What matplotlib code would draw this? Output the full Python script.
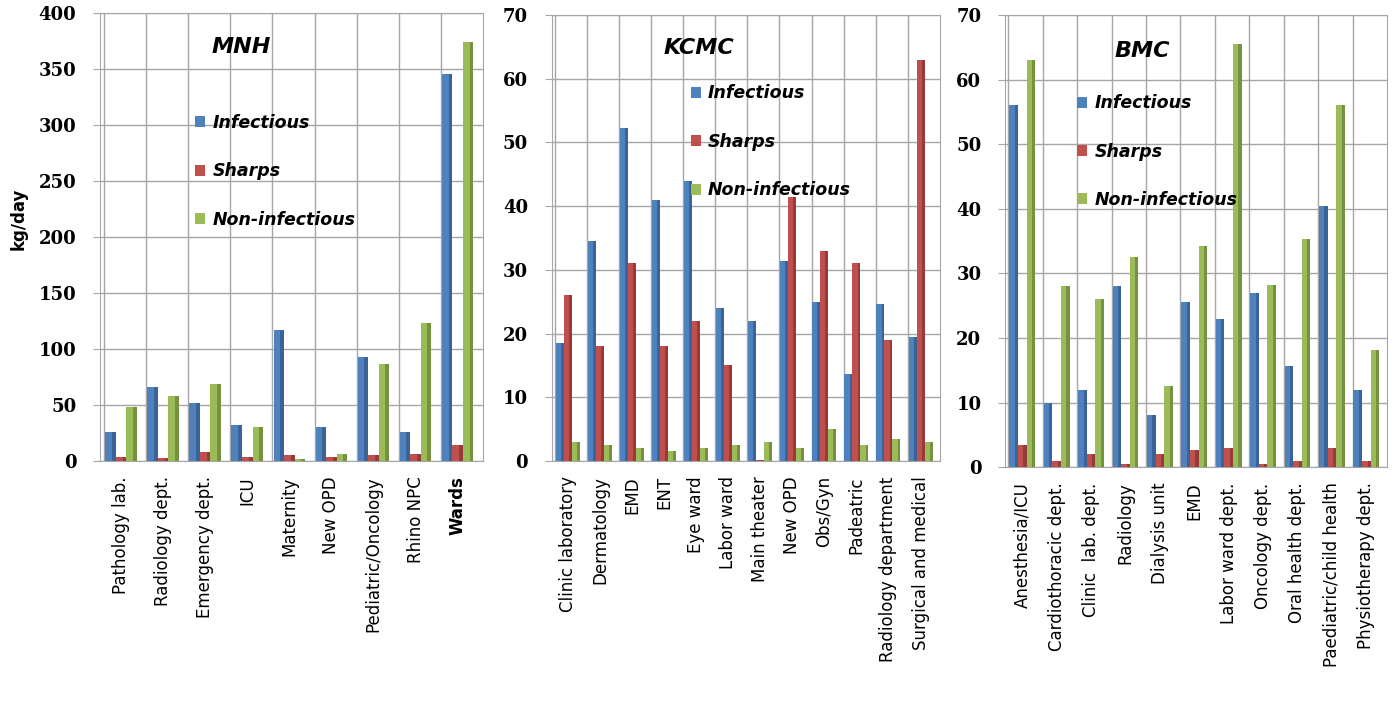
import matplotlib
matplotlib.use("Agg")
import matplotlib.pyplot as plt
import numpy as np

# waste generation per department, kg/day
mnh_depts = ["Pathology lab.", "Radiology dept.", "Emergency dept.", "ICU", "Maternity",
             "New OPD", "Pediatric/Oncology", "Rhino NPC", "Wards"]
mnh_infectious = [26, 66, 52, 32, 117, 30, 93, 26, 346]
mnh_sharps = [4, 3, 8, 4, 5, 4, 5, 6, 14]
mnh_noninf = [48, 58, 69, 30, 2, 6, 87, 123, 374]

kcmc_depts = ["Clinic laboratory", "Dermatology", "EMD", "ENT", "Eye ward", "Labor ward",
              "Main theater", "New OPD", "Obs/Gyn", "Padeatric", "Radiology department",
              "Surgical and medical"]
kcmc_infectious = [18.5, 34.5, 52.3, 41, 44, 24, 22, 31.4, 25, 13.6, 24.6, 19.5]
kcmc_sharps = [26, 18, 31, 18, 22, 15, 0.2, 41.5, 33, 31, 19, 63]
kcmc_noninf = [3, 2.5, 2, 1.5, 2, 2.5, 3, 2, 5, 2.5, 3.5, 3]

bmc_depts = ["Anesthesia/ICU", "Cardiothoracic dept.", "Clinic  lab. dept.", "Radiology",
             "Dialysis unit", "EMD", "Labor ward dept.", "Oncology dept.", "Oral health dept.",
             "Paediatric/child health", "Physiotherapy dept."]
bmc_infectious = [56, 10, 12, 28, 8, 25.5, 23, 27, 15.6, 40.4, 12]
bmc_sharps = [3.5, 1, 2, 0.5, 2, 2.6, 3, 0.5, 1, 3, 1]
bmc_noninf = [63, 28, 26, 32.5, 12.6, 34.3, 65.5, 28.2, 35.3, 56, 18.1]

series_names = ["Infectious", "Sharps", "Non-infectious"]
face = ["#4f81bd", "#c0504d", "#9bbb59"]
side = ["#3a6397", "#953b39", "#76913f"]
grid_c = "#a6a6a6"


def panel(ax, depts, series, ymax, ystep, title, title_xy, leg_xy, bold_last=False):
    n = len(depts)
    x = np.arange(n)
    w = 0.25
    for k, vals in enumerate(series):
        pos = x + (k - 1) * w
        ax.bar(pos, vals, w, color=face[k], label=series_names[k], zorder=3)
        # darker right face for a bit of depth
        ax.bar(pos + w * 0.32, vals, w * 0.36, color=side[k], zorder=3)
    ax.set_xlim(-0.5, n - 0.4)
    ax.set_ylim(0, ymax)
    ax.set_yticks(np.arange(0, ymax + 1, ystep))
    for b in np.arange(n) - 0.4:
        ax.axvline(b, color=grid_c, lw=1, zorder=1)
    ax.yaxis.grid(True, color=grid_c, lw=1, zorder=1)
    ax.set_axisbelow(True)
    for s in ax.spines.values():
        s.set_color(grid_c)
    ax.set_xticks(x)
    ax.set_xticklabels(depts, rotation=90, fontsize=12, family="DejaVu Sans")
    ax.tick_params(axis="x", length=0, pad=11)
    ax.tick_params(axis="y", length=5, color=grid_c, pad=12)
    for t in ax.get_yticklabels():
        t.set_fontfamily("DejaVu Serif")
        t.set_fontweight("bold")
        t.set_fontsize(13)
    if bold_last:
        ax.get_xticklabels()[-1].set_fontweight("bold")
    ax.text(*title_xy, title, transform=ax.transAxes, ha="center", va="center",
            fontsize=16, fontweight="bold", fontstyle="italic")
    ax.legend(loc="upper left", bbox_to_anchor=leg_xy, frameon=False,
              prop={"weight": "bold", "style": "italic", "size": 12.5},
              handlelength=0.6, handleheight=0.6, handletextpad=0.4,
              labelspacing=1.75, borderaxespad=0)


fig = plt.figure(figsize=(13.97, 7.11), dpi=100)
ax1 = fig.add_axes([0.0716, 0.3516, 0.274, 0.630])
ax2 = fig.add_axes([0.395, 0.3516, 0.2777, 0.6273])
ax3 = fig.add_axes([0.7194, 0.343, 0.2734, 0.636])

panel(ax1, mnh_depts, [mnh_infectious, mnh_sharps, mnh_noninf], 400, 50,
      "MNH", (0.37, 0.925), (0.23, 0.79), bold_last=True)
panel(ax2, kcmc_depts, [kcmc_infectious, kcmc_sharps, kcmc_noninf], 70, 10,
      "KCMC", (0.38, 0.925), (0.34, 0.86))
panel(ax3, bmc_depts, [bmc_infectious, bmc_sharps, bmc_noninf], 70, 10,
      "BMC", (0.36, 0.92), (0.17, 0.84))

ax1.set_ylabel("kg/day", fontsize=12, fontweight="bold")
ax1.yaxis.set_label_coords(-0.19, 0.54)

fig.savefig("out.png", dpi=100)
